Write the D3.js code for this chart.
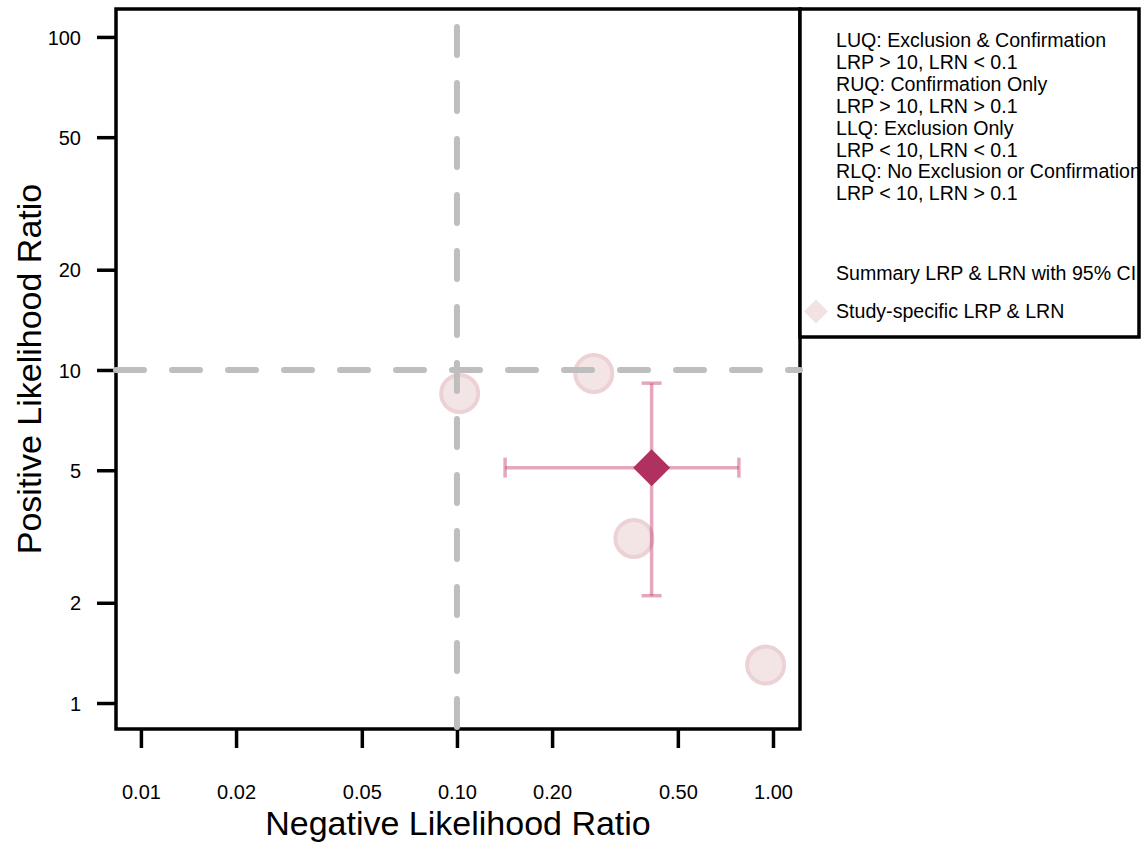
<!DOCTYPE html>
<html>
<head>
<meta charset="utf-8">
<script src="https://cdn.jsdelivr.net/npm/d3@7"></script>
<style>
  body { margin: 0; background: #fff; }
  text { font-family: "Liberation Sans", Arial, sans-serif; fill: #000; }
</style>
</head>
<body>
<svg id="chart"></svg>
<script>
// Data
const studyLRN = [0.102, 0.271, 0.363, 0.948];
const studyLRP = [8.5, 9.76, 3.12, 1.30];
const summaryLRN = [0.142, 0.413, 0.780];   // low, point, high
const summaryLRP = [2.10, 5.09, 9.13];      // low, point, high
const xTicks = [0.01, 0.02, 0.05, 0.1, 0.2, 0.5, 1];
const xTickLabels = ["0.01", "0.02", "0.05", "0.10", "0.20", "0.50", "1.00"];
const yTicks = [1, 2, 5, 10, 20, 50, 100];
const yTickLabels = ["1", "2", "5", "10", "20", "50", "100"];
const xLim = [0.00834, 1.2175];
const yLim = [0.8356, 121.3];
const refLRN = 0.1;
const refLRP = 10;
const legendLines = [
  "LUQ: Exclusion & Confirmation",
  "LRP > 10, LRN < 0.1",
  "RUQ: Confirmation Only",
  "LRP > 10, LRN > 0.1",
  "LLQ: Exclusion Only",
  "LRP < 10, LRN < 0.1",
  "RLQ: No Exclusion or Confirmation",
  "LRP < 10, LRN > 0.1"
];

// Size
const width = 1141;
const height = 843;
const box = { left: 116, right: 800, top: 9, bottom: 729 };

const svg = d3.select("#chart")
  .attr("width", width)
  .attr("height", height);

const x = d3.scaleLog().domain(xLim).range([box.left, box.right]);
const y = d3.scaleLog().domain(yLim).range([box.bottom, box.top]);

// Plot box
svg.append("rect")
  .attr("x", box.left).attr("y", box.top)
  .attr("width", box.right - box.left).attr("height", box.bottom - box.top)
  .attr("fill", "none").attr("stroke", "#000").attr("stroke-width", 3.5);

// Axes
const xAxis = svg.append("g")
  .attr("transform", `translate(0,${box.bottom})`)
  .call(d3.axisBottom(x).tickValues(xTicks).tickSize(19).tickPadding(37)
    .tickFormat((d, i) => xTickLabels[i]));
const yAxis = svg.append("g")
  .attr("transform", `translate(${box.left},0)`)
  .call(d3.axisLeft(y).tickValues(yTicks).tickSize(19).tickPadding(16)
    .tickFormat((d, i) => yTickLabels[i]));

[xAxis, yAxis].forEach(a => {
  a.select(".domain").remove();
  a.selectAll(".tick line").attr("stroke", "#000").attr("stroke-width", 3.5);
  a.selectAll(".tick text")
    .style("font-family", "'Liberation Sans', Arial, sans-serif")
    .style("font-size", "20px").attr("fill", "#000");
});
yAxis.selectAll(".tick text").attr("dy", "0.36em");

// Axis titles
svg.append("text")
  .attr("x", (box.left + box.right) / 2).attr("y", 835)
  .attr("text-anchor", "middle")
  .style("font-size", "34px")
  .text("Negative Likelihood Ratio");

svg.append("text")
  .attr("transform", "rotate(-90)")
  .attr("x", -369).attr("y", 41)
  .attr("text-anchor", "middle")
  .style("font-size", "34px")
  .text("Positive Likelihood Ratio");

// Legend box
const legend = svg.append("g");
legend.append("rect")
  .attr("x", box.right).attr("y", box.top)
  .attr("width", 339).attr("height", 328)
  .attr("fill", "#fff").attr("stroke", "#000").attr("stroke-width", 3.5);

legend.selectAll("text.q")
  .data(legendLines)
  .enter().append("text")
  .attr("class", "q")
  .attr("x", 836)
  .attr("y", (d, i) => 47 + i * 21.9)
  .style("font-size", "19.6px")
  .text(d => d);

legend.append("text")
  .attr("x", 836).attr("y", 280)
  .style("font-size", "19.6px")
  .text("Summary LRP & LRN with 95% CI");

legend.append("path")
  .attr("d", d3.symbol(d3.symbolSquare, 290)())
  .attr("transform", "translate(816,311.5) rotate(45)")
  .attr("fill", "#f2e2e3");

legend.append("text")
  .attr("x", 836).attr("y", 318)
  .style("font-size", "19.6px")
  .text("Study-specific LRP & LRN");

// Study points
svg.selectAll("circle.study")
  .data(studyLRN)
  .enter().append("circle")
  .attr("class", "study")
  .attr("cx", d => x(d))
  .attr("cy", (d, i) => y(studyLRP[i]))
  .attr("r", 18.5)
  .attr("fill", "#f3e5e5")
  .attr("stroke", "#ecd2d5")
  .attr("stroke-width", 4);

// Reference lines
svg.append("line")
  .attr("x1", x(refLRN)).attr("x2", x(refLRN))
  .attr("y1", box.top).attr("y2", box.bottom)
  .attr("stroke", "#bebebe").attr("stroke-width", 6)
  .attr("stroke-linecap", "round")
  .attr("stroke-dasharray", "28,28").attr("stroke-dashoffset", 38);

svg.append("line")
  .attr("x1", box.left).attr("x2", box.right)
  .attr("y1", y(refLRP)).attr("y2", y(refLRP))
  .attr("stroke", "#bebebe").attr("stroke-width", 6)
  .attr("stroke-linecap", "round")
  .attr("stroke-dasharray", "28,28");

// Summary with CI
const ciColor = "rgba(195,60,110,0.45)";
const cap = 10;
const ci = svg.append("g").attr("stroke", ciColor).attr("stroke-width", 3.5);
const sx = x(summaryLRN[1]);
const sy = y(summaryLRP[1]);

ci.append("line").attr("x1", x(summaryLRN[0])).attr("x2", x(summaryLRN[2])).attr("y1", sy).attr("y2", sy);
ci.append("line").attr("x1", sx).attr("x2", sx).attr("y1", y(summaryLRP[0])).attr("y2", y(summaryLRP[2]));
[summaryLRN[0], summaryLRN[2]].forEach(v => {
  ci.append("line").attr("x1", x(v)).attr("x2", x(v)).attr("y1", sy - cap).attr("y2", sy + cap);
});
[summaryLRP[0], summaryLRP[2]].forEach(v => {
  ci.append("line").attr("x1", sx - cap).attr("x2", sx + cap).attr("y1", y(v)).attr("y2", y(v));
});

svg.append("path")
  .attr("d", d3.symbol(d3.symbolSquare, 685)())
  .attr("transform", `translate(${sx},${sy}) rotate(45)`)
  .attr("fill", "#b0305f");
</script>
</body>
</html>
